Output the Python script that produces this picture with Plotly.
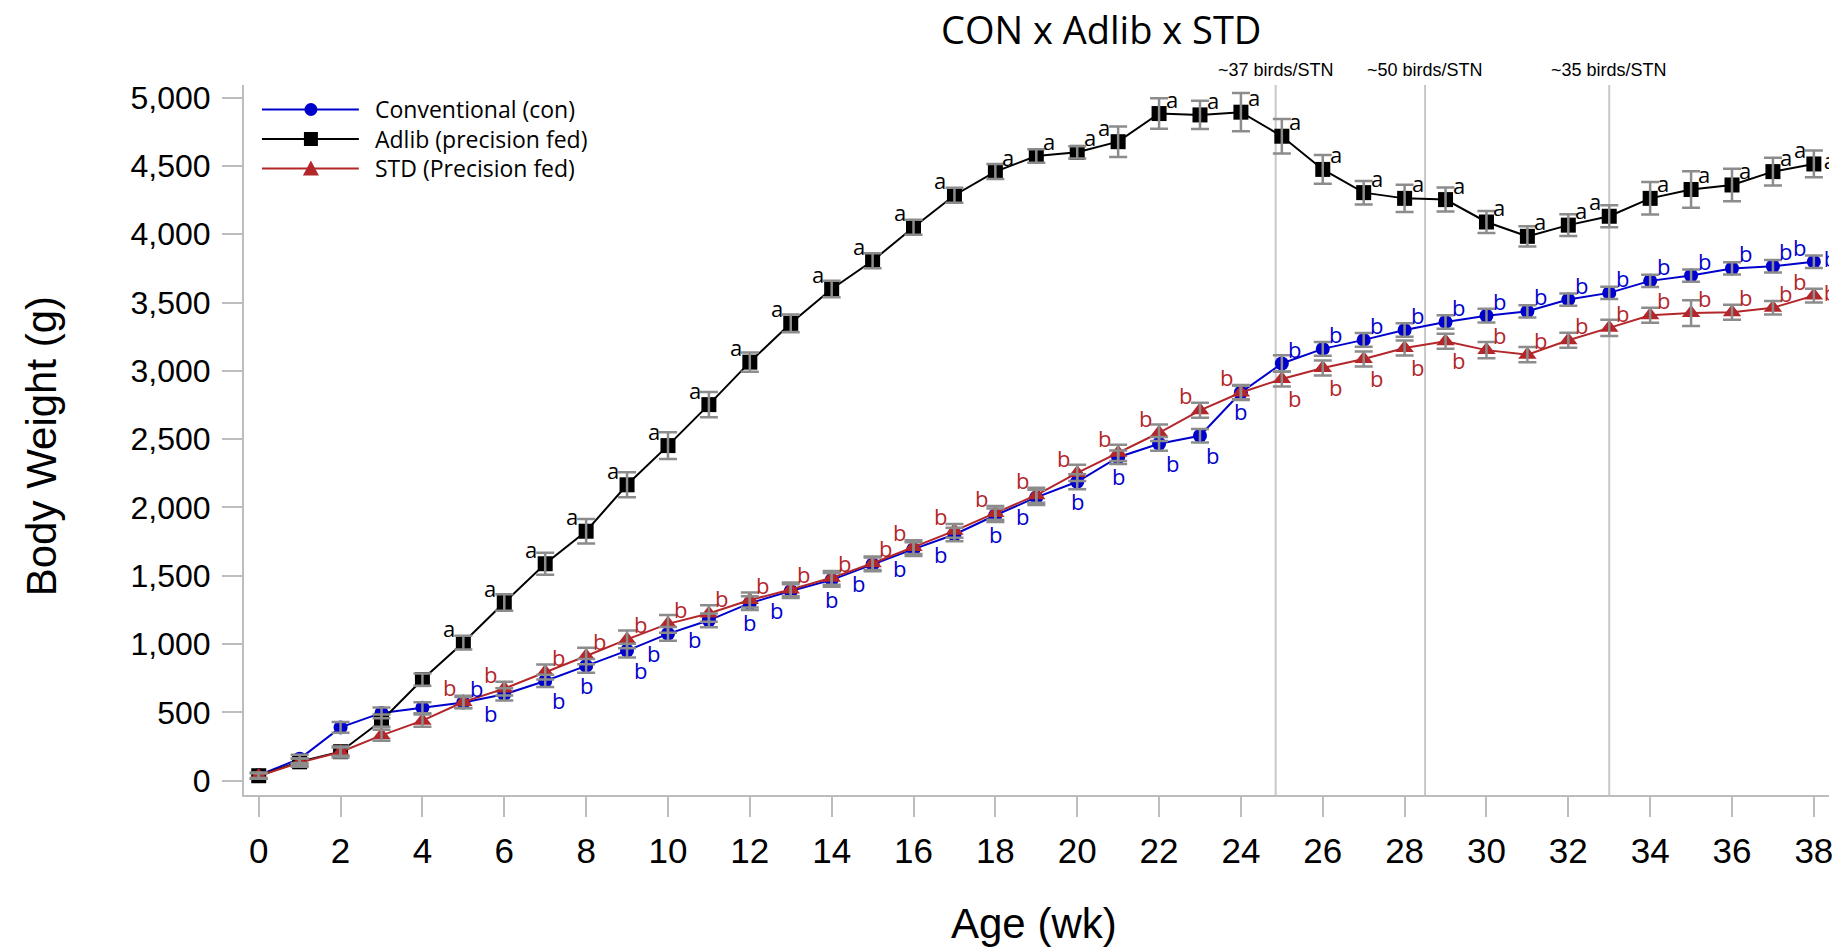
import plotly.graph_objects as go

# ---------------- data ----------------
weeks = list(range(39))

con = [40, 160, 390, 496, 534, 572, 632, 730, 840, 952, 1075, 1174, 1300, 1388, 1470,
       1583, 1695, 1802, 1943, 2074, 2188, 2368, 2466, 2525, 2842, 3054, 3161, 3227,
       3299, 3358, 3404, 3436, 3522, 3571, 3659, 3698, 3750, 3766, 3799]
adlib = [36, 138, 212, 439, 740, 1011, 1304, 1588, 1826, 2166, 2453, 2753, 3064, 3348,
         3600, 3806, 4051, 4286, 4459, 4573, 4600, 4678, 4884, 4874, 4894, 4718, 4475,
         4305, 4263, 4254, 4090, 3985, 4067, 4132, 4263, 4328, 4361, 4459, 4515]
std = [34, 132, 210, 332, 439, 576, 674, 796, 913, 1034, 1148, 1224, 1322, 1400, 1485,
       1592, 1710, 1829, 1960, 2090, 2253, 2400, 2547, 2711, 2842, 2940, 3021, 3087,
       3168, 3217, 3152, 3119, 3224, 3315, 3407, 3423, 3430, 3462, 3551]

con_se = [20, 30, 40, 40, 40, 40, 45, 45, 50, 50, 50, 50, 50, 50, 50, 50, 50, 50, 50,
          55, 55, 50, 50, 50, 50, 60, 50, 50, 50, 50, 50, 45, 45, 45, 45, 45, 45, 45, 45]
adlib_se = [20, 25, 30, 45, 45, 50, 60, 80, 90, 92, 98, 93, 70, 65, 60, 55, 55, 55, 55,
            50, 45, 112, 112, 103, 140, 126, 105, 86, 100, 88, 80, 74, 79, 80, 119, 133,
            119, 101, 98]
std_se = [20, 30, 40, 40, 45, 45, 50, 55, 60, 65, 65, 60, 55, 50, 50, 50, 50, 50, 50, 55,
          60, 60, 60, 55, 55, 55, 55, 55, 55, 55, 60, 55, 55, 60, 55, 95, 55, 50, 50]

# significance letters and where each sits relative to its point
con_letter = "b"
adlib_letter = "a"
std_letter = "b"
N = None
con_pos = [N, N, N, N, N, "ur", "ll", "lr", "d", "lr", "ll", "ll", "d", "ll", "d", "ll",
           "ll", "ll", "d", "ll", "d", "d", "lr", "lr", "d"] + ["ur"] * 13 + ["ul"]
adlib_pos = [N, N, N, N, N] + ["ul"] * 13 + ["ur"] * 3 + ["ul"] + ["ur"] * 11 + ["ul"] + \
            ["ur"] * 4 + ["ul"]
std_pos = [N, N, N, N, N, "ul", "ul"] + ["ur"] * 9 + ["ul"] * 9 + ["lr"] * 5 + \
          ["ur"] * 8 + ["ul"]

series_names = ["Conventional (con)", "Adlib (precision fed)", "STD (Precision fed)"]
census_x = [24.85, 28.5, 33.0]
census_text = ["~37 birds/STN", "~50 birds/STN", "~35 birds/STN"]
title_text = "CON x Adlib x STD"
x_title = "Age (wk)"
y_title = "Body Weight (g)"
x_ticks = list(range(0, 39, 2))
y_ticks = list(range(0, 5001, 500))

# ---------------- style ----------------
BLUE = "#0000cd"
BLACK = "#000000"
RED = "#b3262a"
ERR = "#8c8c8c"
AXIS = "#bdbdbd"
SANS = "Liberation Sans, Arial, sans-serif"
UI = "Open Sans, Segoe UI, sans-serif"

W, H = 1845, 947
L, R, T, B = 244, 14, 85, 152

fig = go.Figure()

specs = [
    (con, con_se, BLUE, "circle", 14, series_names[0]),
    (adlib, adlib_se, BLACK, "square", 15, series_names[1]),
    (std, std_se, RED, "triangle-up", 16, series_names[2]),
]
for vals, se, col, sym, sz, name in specs:
    fig.add_trace(go.Scatter(
        x=weeks, y=vals, mode="lines+markers", name=name, showlegend=False,
        line=dict(color=col, width=2),
        marker=dict(symbol=sym, size=sz, color=col, line=dict(width=0)),
    ))
# error bars drawn on top of markers
for vals, se, col, sym, sz, name in specs:
    fig.add_trace(go.Scatter(
        x=weeks, y=vals, mode="markers", showlegend=False, hoverinfo="skip",
        marker=dict(size=2, color="rgba(0,0,0,0)"),
        error_y=dict(type="data", array=se, color=ERR, thickness=2.5, width=9),
    ))

# significance letters
LETTER_SIZE = 22
OFF = {"ur": (13, 15), "ul": (-14, 15), "lr": (13, -19), "ll": (-14, -19), "d": (0, -19)}
for vals, pos, letter, col in [(adlib, adlib_pos, adlib_letter, BLACK),
                               (con, con_pos, con_letter, BLUE),
                               (std, std_pos, std_letter, RED)]:
    for wk, v, p in zip(weeks, vals, pos):
        if p is None:
            continue
        dx, dy = OFF[p]
        fig.add_annotation(x=wk, y=v, xref="x", yref="y", text=letter, showarrow=False,
                           xshift=dx, yshift=dy, xanchor="center", yanchor="middle",
                           font=dict(family=UI, size=LETTER_SIZE, color=col))

# letters at the right edge that are cut by the plot area
for vals, letter, col in [(adlib, adlib_letter, BLACK), (con, con_letter, BLUE),
                          (std, std_letter, RED)]:
    fig.add_trace(go.Scatter(
        x=[weeks[-1]], y=[vals[-1]], mode="markers+text", text=[letter],
        textposition="middle right", cliponaxis=True, showlegend=False, hoverinfo="skip",
        marker=dict(size=14.4, color="rgba(0,0,0,0)"),
        textfont=dict(family=UI, size=LETTER_SIZE, color=col),
    ))

# census lines
for cx, ct in zip(census_x, census_text):
    fig.add_shape(type="line", xref="x", yref="paper", x0=cx, x1=cx, y0=0, y1=1,
                  line=dict(color="#c8c8c8", width=2), layer="below")
    fig.add_annotation(x=cx, y=1.0211, xref="x", yref="paper", text=ct, showarrow=False,
                       xanchor="center", yanchor="middle",
                       font=dict(family=SANS, size=18, color="black"))


# manual legend (pixel positions converted to paper coords)
def px(xp):
    return (xp - L) / (W - L - R)


def py(yp):
    return (H - B - yp) / (H - T - B)


leg_rows = [109.5, 139.0, 168.5]
leg_cols = [BLUE, BLACK, RED]
for i, (yrow, col, name) in enumerate(zip(leg_rows, leg_cols, series_names)):
    fig.add_shape(type="line", xref="paper", yref="paper", x0=px(262), x1=px(359),
                  y0=py(yrow), y1=py(yrow), line=dict(color=col, width=2))
    if i == 0:
        fig.add_shape(type="circle", xref="paper", yref="paper", x0=px(304.5), x1=px(317.5),
                      y0=py(yrow + 6.5), y1=py(yrow - 6.5), fillcolor=col, line=dict(width=0))
    elif i == 1:
        fig.add_shape(type="rect", xref="paper", yref="paper", x0=px(304), x1=px(318),
                      y0=py(yrow + 7), y1=py(yrow - 7), fillcolor=col, line=dict(width=0))
    else:
        path = "M {} {} L {} {} L {} {} Z".format(px(303), py(yrow + 7), px(319), py(yrow + 7),
                                                 px(311), py(yrow - 8))
        fig.add_shape(type="path", xref="paper", yref="paper", path=path, fillcolor=col,
                      line=dict(width=0))
    fig.add_annotation(x=px(373), y=py(yrow), xref="paper", yref="paper", text=name,
                       showarrow=False, xanchor="left", yanchor="middle",
                       font=dict(family=UI, size=23, color="black"))

# axis titles
fig.add_annotation(x=px(41), y=py(446), xref="paper", yref="paper", text=y_title,
                   textangle=-90, showarrow=False, xanchor="center", yanchor="middle",
                   font=dict(family=SANS, size=42, color="black"))
fig.add_annotation(x=px(1035), y=py(949), xref="paper", yref="paper", text=x_title,
                   showarrow=False, xanchor="center", yanchor="bottom",
                   font=dict(family=SANS, size=42, color="black"))

# chart title as a paper annotation kept inside the top edge
fig.add_annotation(x=px(1102), y=py(1), xref="paper", yref="paper", text=title_text,
                   showarrow=False, xanchor="center", yanchor="top",
                   font=dict(family=UI, size=38, color="black"))

fig.update_layout(
    width=W, height=H, autosize=False,
    margin=dict(l=L, r=R, t=T, b=B, pad=0),
    paper_bgcolor="white", plot_bgcolor="white",
    showlegend=False,
    xaxis=dict(range=[-0.36, 38.37], tickvals=x_ticks, showline=True, linecolor=AXIS,
               linewidth=2, ticks="outside", ticklen=20, tickwidth=2, tickcolor=AXIS,
               showgrid=False, zeroline=False, ticklabelstandoff=4,
               tickfont=dict(family=SANS, size=35, color="black")),
    yaxis=dict(range=[-105, 5093], tickvals=y_ticks, tickformat=",d", showline=True,
               linecolor=AXIS, linewidth=2, ticks="outside", ticklen=20, tickwidth=2,
               tickcolor=AXIS, showgrid=False, zeroline=False, ticklabelstandoff=5,
               tickfont=dict(family=SANS, size=32, color="black")),
)

fig.write_html("out.html")
